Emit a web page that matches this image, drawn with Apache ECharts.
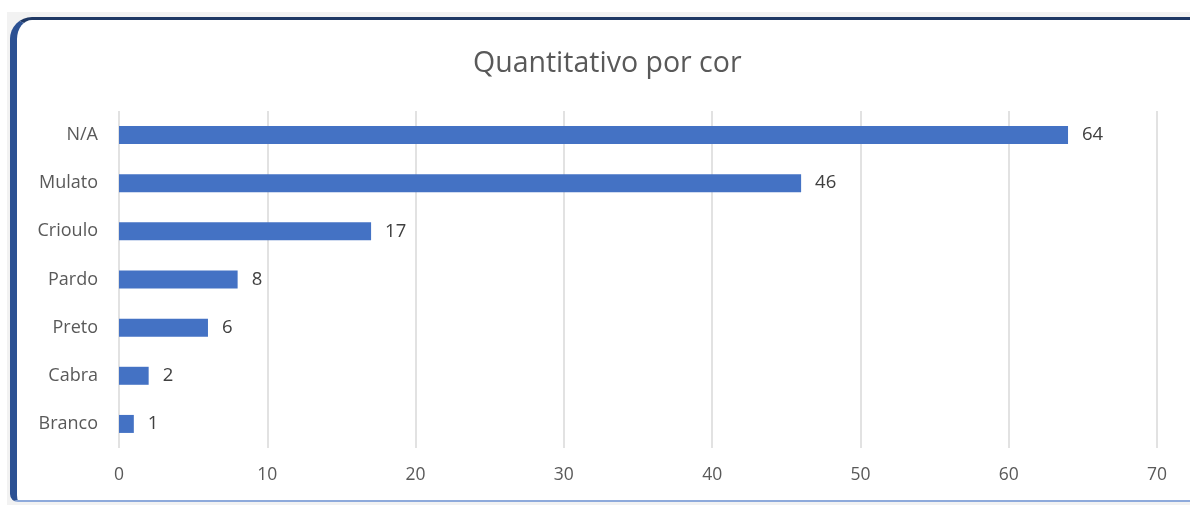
<!DOCTYPE html>
<html><head><meta charset="utf-8">
<script src="https://cdn.jsdelivr.net/npm/echarts@6/dist/echarts.min.js"></script>
<style>
html,body{margin:0;padding:0;width:1190px;height:505px;overflow:hidden;background:#fff;}
#bg{position:absolute;left:7px;top:12px;width:1183px;height:493px;background:#f2f2f2;}
#frame{position:absolute;left:10px;top:17px;width:1180px;height:485px;background:#fff;border-left:7px solid #2c5193;border-top:3px solid #1f3864;border-bottom:2px solid #8eaadb;border-top-left-radius:22px;border-bottom-left-radius:8px;box-sizing:border-box;}
#chart{position:absolute;left:0;top:0;width:1190px;height:505px;}
</style></head>
<body>
<div id="bg"></div><div id="frame"></div>
<div id="chart"></div>
<script>
const categories = ["N/A","Mulato","Crioulo","Pardo","Preto","Cabra","Branco"];
const values = [64,46,17,8,6,2,1];
const xTicks = {min:0,max:70,interval:10};

const chart = echarts.init(document.getElementById('chart'), null, {renderer:'canvas'});
chart.setOption({
  backgroundColor:'transparent',
  animation:false,
  title:{text:'Quantitativo por cor',left:468,top:44,
    textStyle:{fontFamily:'Open Sans',fontSize:28.5,fontWeight:'normal',color:'#595959'}},
  grid:{left:119,right:33,top:111,bottom:57,containLabel:false},
  xAxis:{type:'value',min:xTicks.min,max:xTicks.max,interval:xTicks.interval,
    axisLine:{show:false},axisTick:{show:false},
    axisLabel:{color:'#595959',fontFamily:'Open Sans',fontSize:17.5,margin:18},
    splitLine:{lineStyle:{color:'#d9d9d9',width:1.5}}},
  yAxis:{type:'category',data:categories,inverse:true,
    axisLine:{show:false},axisTick:{show:false},
    axisLabel:{color:'#595959',fontFamily:'Open Sans',fontSize:18,margin:21},
    splitLine:{show:false}},
  series:[{type:'bar',data:values,barWidth:18,
    itemStyle:{color:'#4472c4'},
    label:{show:true,position:'right',distance:14,color:'#404040',fontFamily:'Open Sans',fontSize:18.5}}]
});
</script>
</body></html>
